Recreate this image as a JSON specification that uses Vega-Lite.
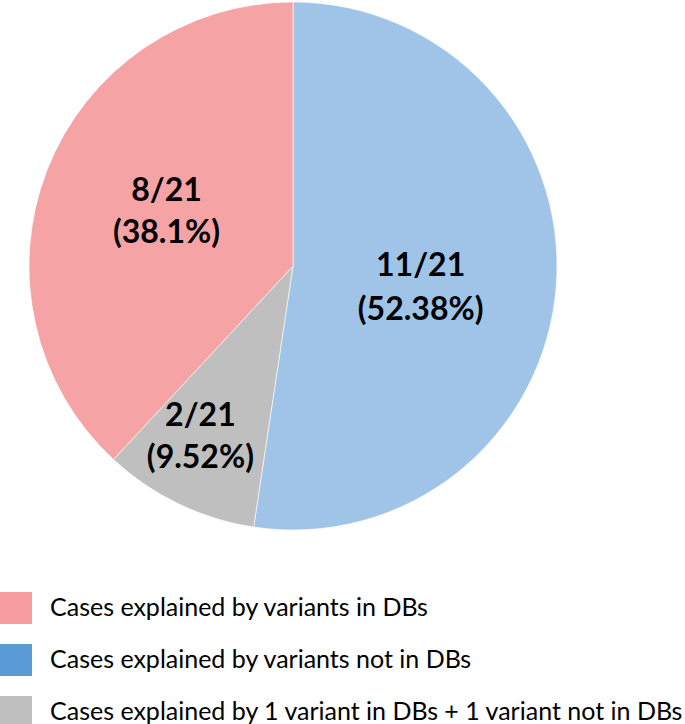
{
  "$schema": "https://vega.github.io/schema/vega-lite/v6.json",
  "width": 586,
  "height": 526,
  "padding": 0,
  "autosize": {"type": "pad"},
  "background": "white",
  "config": {"view": {"stroke": null}},
  "data": {
    "values": [
      {"category": "Cases explained by variants not in DBs", "value": 11, "label": "11/21\n(52.38%)", "order": 1},
      {"category": "Cases explained by 1 variant in DBs + 1 variant not in DBs", "value": 2, "label": "2/21\n(9.52%)", "order": 2},
      {"category": "Cases explained by variants in DBs", "value": 8, "label": "8/21\n(38.1%)", "order": 3}
    ]
  },
  "layer": [
    {
      "mark": {"type": "arc", "outerRadius": 264, "stroke": "white", "strokeWidth": 0.6},
      "encoding": {
        "theta": {"field": "value", "type": "quantitative", "stack": true},
        "order": {"field": "order", "type": "quantitative"},
        "color": {
          "field": "category",
          "type": "nominal",
          "scale": {
            "domain": ["Cases explained by variants in DBs", "Cases explained by variants not in DBs", "Cases explained by 1 variant in DBs + 1 variant not in DBs"],
            "range": ["#F5A3A5", "#9FC4E7", "#BFBFBF"]
          },
          "legend": null
        }
      }
    },
    {
      "mark": {"type": "text", "radius": 128, "dy": -10, "font": "Lato", "fontWeight": "bold", "fontSize": 32, "lineHeight": 44, "lineBreak": "\n", "align": "center", "baseline": "middle", "color": "black"},
      "encoding": {
        "theta": {"field": "value", "type": "quantitative", "stack": true},
        "order": {"field": "order", "type": "quantitative"},
        "detail": {"field": "category", "type": "nominal"},
        "text": {"condition": {"test": "datum.order == 1", "field": "label"}, "value": ""}
      }
    },
    {
      "mark": {"type": "text", "radius": 195, "dx": -8, "dy": -26, "font": "Lato", "fontWeight": "bold", "fontSize": 32, "lineHeight": 42, "lineBreak": "\n", "align": "center", "baseline": "middle", "color": "black"},
      "encoding": {
        "theta": {"field": "value", "type": "quantitative", "stack": true},
        "order": {"field": "order", "type": "quantitative"},
        "detail": {"field": "category", "type": "nominal"},
        "text": {"condition": {"test": "datum.order == 2", "field": "label"}, "value": ""}
      }
    },
    {
      "mark": {"type": "text", "radius": 137, "dx": 1, "dy": -25, "font": "Lato", "fontWeight": "bold", "fontSize": 32, "lineHeight": 42, "lineBreak": "\n", "align": "center", "baseline": "middle", "color": "black"},
      "encoding": {
        "theta": {"field": "value", "type": "quantitative", "stack": true},
        "order": {"field": "order", "type": "quantitative"},
        "detail": {"field": "category", "type": "nominal"},
        "text": {"condition": {"test": "datum.order == 3", "field": "label"}, "value": ""}
      }
    },
    {
      "mark": {"type": "square", "opacity": 0, "size": 1},
      "encoding": {
        "color": {
          "field": "category",
          "type": "nominal",
          "scale": {
            "domain": ["Cases explained by variants in DBs", "Cases explained by variants not in DBs", "Cases explained by 1 variant in DBs + 1 variant not in DBs"],
            "range": ["#F79D9F", "#5B9BD5", "#BFBFBF"]
          },
          "legend": {
            "title": null,
            "orient": "none",
            "legendX": 0,
            "legendY": 589,
            "symbolType": "square",
            "symbolSize": 1024,
            "symbolOpacity": 1,
            "symbolStrokeWidth": 0,
            "rowPadding": 20,
            "labelFont": "Lato",
            "labelFontSize": 25,
            "labelColor": "black",
            "labelOffset": 18,
            "labelLimit": 700,
            "padding": 0
          }
        }
      }
    }
  ],
  "resolve": {"scale": {"color": "independent"}}
}
